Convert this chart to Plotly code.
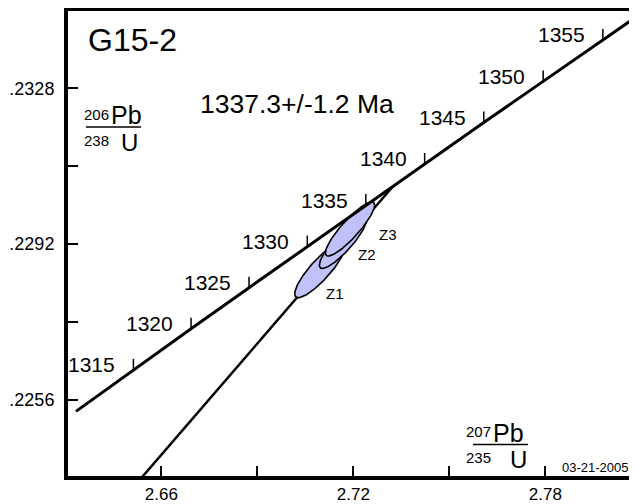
import numpy as np
import plotly.graph_objects as go

# ---------------- data ----------------
# Concordia: ages (Ma) and their 207Pb/235U, 206Pb/238U ratios
conc_age = [1310, 1315, 1320, 1325, 1330, 1335, 1340, 1345, 1350, 1355, 1360]
conc_x = [2.63334, 2.65128, 2.66930, 2.68742, 2.70562, 2.72391, 2.74229, 2.76077, 2.77933, 2.79799, 2.81674]
conc_y = [0.22533, 0.22629, 0.22724, 0.22819, 0.22914, 0.23010, 0.23105, 0.23201, 0.23296, 0.23392, 0.23488]
tick_ages = [1315, 1320, 1325, 1330, 1335, 1340, 1345, 1350, 1355]

# Discordia (regression line, ends at the upper intercept 1337.3 Ma)
disc_x = [2.65000, 2.73236]
disc_y = [0.223467, 0.23053]

# Analyses (error ellipses)
ell_names = ["Z1", "Z2", "Z3"]
ell_x = [2.70959, 2.71678, 2.71897]
ell_sx = [0.00790, 0.00740, 0.00770]
ell_y = [0.228599, 0.229235, 0.229547]
ell_sy = [0.000640, 0.000600, 0.000625]
ell_rho = [0.86, 0.875, 0.885]
lab_x = [2.71428, 2.72428, 2.73084]
lab_y = [0.228067, 0.228967, 0.229431]

# Axis ticks
x_tickvals = [2.66, 2.69, 2.72, 2.75, 2.78]
x_ticktext = ["2.66", "", "2.72", "", "2.78"]
y_tickvals = [0.2256, 0.2274, 0.2292, 0.2310, 0.2328]
y_ticktext = [".2256", "", ".2292", "", ".2328"]

title_text = "G15-2"
age_text = "1337.3+/-1.2 Ma"
date_text = "03-21-2005"

FONT = "Liberation Sans, Arial, sans-serif"
OFF = 8                      # page offset of the figure (body margin)
W, H = 637 - OFF, 504 - OFF
ML, MR, MT = 68 - OFF, 0, 11 - OFF
MB = H - (476 - OFF)
X_RANGE = [2.630844, 2.808656]
Y_RANGE = [0.2238358, 0.2345873]
FILL = "rgb(192,192,250)"

fig = go.Figure()

# discordia
fig.add_trace(go.Scatter(x=disc_x, y=disc_y, mode="lines",
                         line=dict(color="black", width=2.5), hoverinfo="skip"))

# ellipses
t = np.linspace(0, 2 * np.pi, 181)
for name, cx, sx, cy, sy, r in zip(ell_names, ell_x, ell_sx, ell_y, ell_sy, ell_rho):
    ex = cx + sx * np.cos(t)
    ey = cy + sy * (r * np.cos(t) + np.sqrt(1 - r * r) * np.sin(t))
    fig.add_trace(go.Scatter(x=ex, y=ey, mode="lines", fill="toself",
                             fillcolor=FILL, line=dict(color="black", width=1.6),
                             name=name, hoverinfo="skip"))

# concordia
fig.add_trace(go.Scatter(x=conc_x, y=conc_y, mode="lines",
                         line=dict(color="black", width=3), hoverinfo="skip"))

# concordia age ticks
tick_len = 0.000254
tx, ty = [], []
for a in tick_ages:
    i = conc_age.index(a)
    tx += [conc_x[i], conc_x[i], None]
    ty += [conc_y[i], conc_y[i] + tick_len, None]
fig.add_trace(go.Scatter(x=tx, y=ty, mode="lines",
                         line=dict(color="black", width=1.5), hoverinfo="skip"))

annotations = []
for a in tick_ages:
    i = conc_age.index(a)
    annotations.append(dict(x=conc_x[i], y=conc_y[i], xref="x", yref="y",
                            text=str(a), showarrow=False, xanchor="right",
                            yanchor="middle", xshift=-16, yshift=5,
                            font=dict(family=FONT, size=21, color="black")))

for name, lx, ly in zip(ell_names, lab_x, lab_y):
    annotations.append(dict(x=lx, y=ly, xref="x", yref="y", text=name,
                            showarrow=False, xanchor="center", yanchor="middle",
                            font=dict(family=FONT, size=15, color="black")))

PW = W - ML - MR
PH = H - MT - MB


def px(x):
    return (x - OFF - ML) / PW


def py(y):
    return (H - MB - (y - OFF)) / PH


def txt(x, y, s, size, xa="left"):
    annotations.append(dict(x=px(x), y=py(y), xref="paper", yref="paper", text=s,
                            showarrow=False, xanchor=xa, yanchor="middle",
                            borderpad=0,
                            font=dict(family=FONT, size=size, color="black")))


txt(87, 40, title_text, 32)
txt(199, 104, age_text, 26.5)
txt(561, 467, date_text, 13)

# y-axis label 206Pb / 238U
txt(110, 114, "206", 15, "right")
txt(110, 115, "Pb", 25)
txt(110, 140, "238", 15, "right")
txt(120, 142, "U", 24)
# x-axis label 207Pb / 235U
txt(492, 431, "207", 15, "right")
txt(492, 433, "Pb", 25)
txt(492, 457, "235", 15, "right")
txt(509, 459, "U", 24)

shapes = [
    dict(type="line", xref="paper", yref="paper", x0=px(86), x1=px(141),
         y0=py(127), y1=py(127), line=dict(color="black", width=1.5)),
    dict(type="line", xref="paper", yref="paper", x0=px(473), x1=px(528),
         y0=py(444.5), y1=py(444.5), line=dict(color="black", width=1.5)),
]

fig.update_layout(
    width=W, height=H, margin=dict(l=ML, r=MR, t=MT, b=MB),
    paper_bgcolor="white", plot_bgcolor="white", showlegend=False,
    annotations=annotations, shapes=shapes,
    xaxis=dict(range=X_RANGE, showline=True, linewidth=4, linecolor="black",
               mirror=True, ticks="inside", ticklen=10, tickwidth=2,
               tickcolor="black", tickvals=x_tickvals, ticktext=x_ticktext,
               showgrid=False, zeroline=False, automargin=False,
               tickfont=dict(family=FONT, size=17, color="black")),
    yaxis=dict(range=Y_RANGE, showline=True, linewidth=4, linecolor="black",
               mirror=False, ticks="inside", ticklen=10, tickwidth=2,
               tickcolor="black", tickvals=y_tickvals, ticktext=y_ticktext,
               showgrid=False, zeroline=False, automargin=False,
               ticklabelstandoff=6,
               tickfont=dict(family=FONT, size=18, color="black")),
)

fig.write_html("out.html")
